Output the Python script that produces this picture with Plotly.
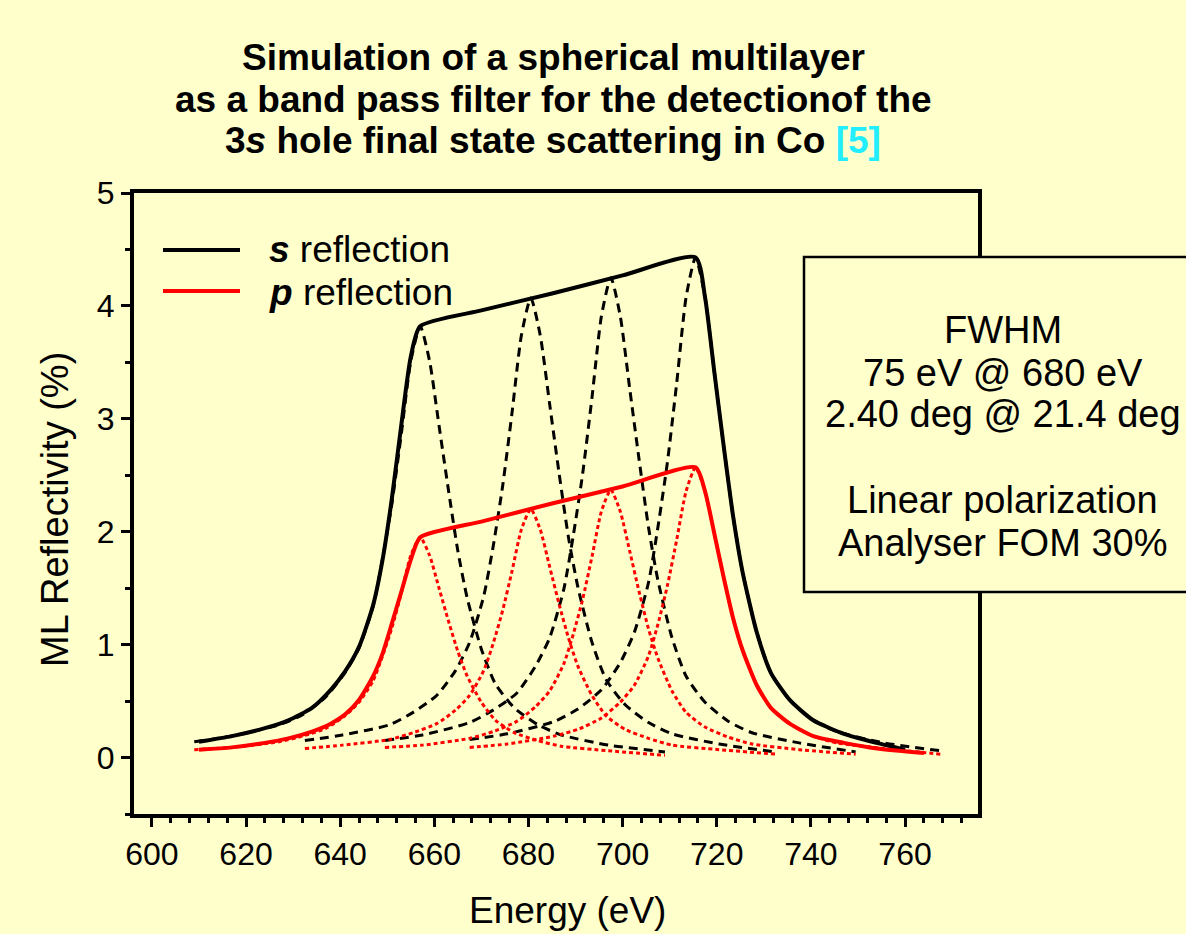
import plotly.graph_objects as go

# ---------------- data ----------------
# total s / p reflection envelopes
energy_s_total = [610, 617, 624, 629, 634, 638, 641, 644, 647, 649, 651, 653, 655, 657,
                  670, 685, 700, 715.5, 717.5, 719.5, 721.5, 723.5, 725.5, 728.5,
                  731.5, 735.5, 740.5, 747, 754, 760]
refl_s_total = [0.14, 0.19, 0.26, 0.33, 0.44, 0.60, 0.76, 0.98, 1.35, 1.75, 2.30, 2.95, 3.55, 3.82,
                3.96, 4.11, 4.27, 4.43, 4.08, 3.41, 2.75, 2.13, 1.64, 1.11,
                0.75, 0.51, 0.33, 0.21, 0.13, 0.07]

energy_p_total = [610, 617, 624, 629, 634, 638, 641, 644, 647, 649, 651, 653, 655, 657,
                  670, 685, 700, 715.5, 717.5, 719.5, 721.5, 723.5, 725.5, 728.5,
                  731.5, 735.5, 740.5, 747, 754, 764]
refl_p_total = [0.07, 0.09, 0.13, 0.17, 0.23, 0.30, 0.38, 0.51, 0.72, 0.92, 1.19, 1.47, 1.75, 1.95,
                2.09, 2.25, 2.40, 2.57, 2.36, 1.98, 1.59, 1.23, 0.95, 0.64,
                0.44, 0.30, 0.19, 0.13, 0.08, 0.04]

# individual reflectivity curves (energies relative to each peak)
offsets_eV = [-48, -40, -30, -25, -20, -16, -13, -10, -8, -6, -4, -2, 0,
              2, 4, 6, 8, 10, 13, 16, 20, 25, 30, 40, 52]
peak_energy = [657, 680.5, 697.5, 715.5]

s_curve_1 = [0.14, 0.19, 0.29, 0.38, 0.54, 0.75, 0.97, 1.34, 1.76, 2.25, 2.87, 3.51, 3.82,
             3.51, 2.94, 2.37, 1.83, 1.41, 0.96, 0.65, 0.44, 0.29, 0.20, 0.11, 0.05]
s_curve_2 = [0.15, 0.20, 0.29, 0.40, 0.55, 0.77, 1.02, 1.43, 1.87, 2.40, 3.05, 3.74, 4.07,
             3.74, 3.13, 2.52, 1.95, 1.51, 1.02, 0.69, 0.47, 0.31, 0.21, 0.12, 0.05]
s_curve_3 = [0.15, 0.20, 0.31, 0.42, 0.57, 0.81, 1.06, 1.49, 1.96, 2.51, 3.19, 3.91, 4.25,
             3.91, 3.27, 2.64, 2.04, 1.57, 1.06, 0.72, 0.49, 0.32, 0.22, 0.13, 0.05]
s_curve_4 = [0.16, 0.21, 0.32, 0.43, 0.60, 0.84, 1.11, 1.55, 2.04, 2.61, 3.32, 4.08, 4.43,
             4.08, 3.41, 2.75, 2.13, 1.64, 1.11, 0.75, 0.51, 0.33, 0.23, 0.13, 0.06]

p_curve_1 = [0.07, 0.09, 0.14, 0.19, 0.26, 0.37, 0.49, 0.68, 0.90, 1.15, 1.46, 1.79, 1.95,
             1.79, 1.50, 1.21, 0.94, 0.72, 0.49, 0.33, 0.22, 0.15, 0.10, 0.06, 0.02]
p_curve_2 = [0.08, 0.11, 0.16, 0.22, 0.30, 0.42, 0.55, 0.77, 1.01, 1.30, 1.65, 2.02, 2.20,
             2.02, 1.69, 1.36, 1.06, 0.81, 0.55, 0.37, 0.25, 0.17, 0.11, 0.07, 0.03]
p_curve_3 = [0.09, 0.11, 0.17, 0.23, 0.32, 0.45, 0.59, 0.83, 1.09, 1.40, 1.78, 2.18, 2.37,
             2.18, 1.83, 1.47, 1.14, 0.88, 0.59, 0.40, 0.27, 0.18, 0.12, 0.07, 0.03]
p_curve_4 = [0.09, 0.12, 0.19, 0.25, 0.35, 0.49, 0.64, 0.90, 1.18, 1.52, 1.93, 2.36, 2.57,
             2.36, 1.98, 1.59, 1.23, 0.95, 0.64, 0.44, 0.30, 0.19, 0.13, 0.08, 0.03]

s_curves = [s_curve_1, s_curve_2, s_curve_3, s_curve_4]
p_curves = [p_curve_1, p_curve_2, p_curve_3, p_curve_4]

legend_labels = ["<b><i>s</i></b> reflection", "<b><i>p</i></b> reflection"]
title_lines = ["Simulation of a spherical multilayer",
               "as a band pass filter for the detectionof the",
               "3<i>s</i> hole final state scattering in Co <span style='color:#22EEFF'>[5]</span>"]
box_lines = ["FWHM", "75 eV @ 680 eV", "2.40 deg @ 21.4 deg", "",
             "Linear polarization", "Analyser FOM 30%"]

# ---------------- figure ----------------
BG = "#FFFFCC"
FONT = "Liberation Sans, Arial, Helvetica, sans-serif"

fig = go.Figure()

for pk, ys in zip(peak_energy, s_curves):
    fig.add_trace(go.Scatter(x=[pk + o for o in offsets_eV], y=ys, mode="lines",
                             line=dict(color="black", width=3, dash="9px,6px",
                                       shape="spline", smoothing=0.6),
                             showlegend=False, hoverinfo="skip"))
for pk, ys in zip(peak_energy, p_curves):
    fig.add_trace(go.Scatter(x=[pk + o for o in offsets_eV], y=ys, mode="lines",
                             line=dict(color="#FF0000", width=3, dash="4px,3px",
                                       shape="spline", smoothing=0.6),
                             showlegend=False, hoverinfo="skip"))

fig.add_trace(go.Scatter(x=energy_s_total, y=refl_s_total, mode="lines",
                         line=dict(color="black", width=4, shape="spline", smoothing=0.6),
                         showlegend=False))
fig.add_trace(go.Scatter(x=energy_p_total, y=refl_p_total, mode="lines",
                         line=dict(color="#FF0000", width=4, shape="spline", smoothing=0.6),
                         showlegend=False))

L, R, T, B = 134, 208, 193, 120
W, H = 1186, 934
pw, ph = W - L - R, H - T - B


def px(x):
    return (x - L) / pw


def py(y):
    return (H - B - y) / ph


axis_common = dict(showline=True, linecolor="black", linewidth=4, mirror=True,
                   ticks="outside", tickcolor="black", tickwidth=3, ticklen=9,
                   showgrid=False, zeroline=False,
                   tickfont=dict(family=FONT, size=32, color="black"))

fig.update_xaxes(range=[596.2, 775.5], tick0=600, dtick=20,
                 minor=dict(ticks="outside", dtick=4, ticklen=5, tickwidth=3, tickcolor="black"),
                 **axis_common)
fig.update_yaxes(range=[-0.5, 5], tick0=0, dtick=1,
                 minor=dict(ticks="outside", dtick=0.5, ticklen=5, tickwidth=3, tickcolor="black"),
                 **axis_common)

shapes = []
# legend samples
shapes.append(dict(type="line", xref="paper", yref="paper", x0=px(163), x1=px(240),
                   y0=py(250), y1=py(250), line=dict(color="black", width=4)))
shapes.append(dict(type="line", xref="paper", yref="paper", x0=px(163), x1=px(240),
                   y0=py(291), y1=py(291), line=dict(color="#FF0000", width=4)))
# info box
shapes.append(dict(type="rect", xref="paper", yref="paper", x0=px(804), x1=px(1200),
                   y0=py(592), y1=py(257), line=dict(color="black", width=2.5),
                   fillcolor=BG, layer="above"))

annotations = []
for lab, yy in zip(legend_labels, [250, 292]):
    annotations.append(dict(text=lab, xref="paper", yref="paper", x=px(267), y=py(yy),
                            xanchor="left", yanchor="middle", showarrow=False,
                            font=dict(family=FONT, size=37, color="black")))
for line, yy in zip(title_lines, [58, 99, 140]):
    annotations.append(dict(text="<b>" + line + "</b>", xref="paper", yref="paper",
                            x=px(553), y=py(yy), xanchor="center", yanchor="middle",
                            showarrow=False, font=dict(family=FONT, size=37, color="black")))
for line, yy in zip(box_lines, [330, 373, 414, 457, 500, 543]):
    if line:
        annotations.append(dict(text=line, xref="paper", yref="paper", x=px(1003), y=py(yy),
                                xanchor="center", yanchor="middle", showarrow=False,
                                font=dict(family=FONT, size=38, color="black")))
annotations.append(dict(text="Energy (eV)", xref="paper", yref="paper", x=px(567), y=py(910),
                        xanchor="center", yanchor="middle", showarrow=False,
                        font=dict(family=FONT, size=37, color="black")))
annotations.append(dict(text="ML Reflectivity (%)", xref="paper", yref="paper", x=px(55),
                        y=py(510), xanchor="center", yanchor="middle", showarrow=False,
                        textangle=-90, font=dict(family=FONT, size=38, color="black")))

fig.update_layout(width=W, height=H, margin=dict(l=L, r=R, t=T, b=B),
                  paper_bgcolor=BG, plot_bgcolor=BG, showlegend=False,
                  shapes=shapes, annotations=annotations,
                  font=dict(family=FONT, color="black"))

fig.write_html("out.html")
